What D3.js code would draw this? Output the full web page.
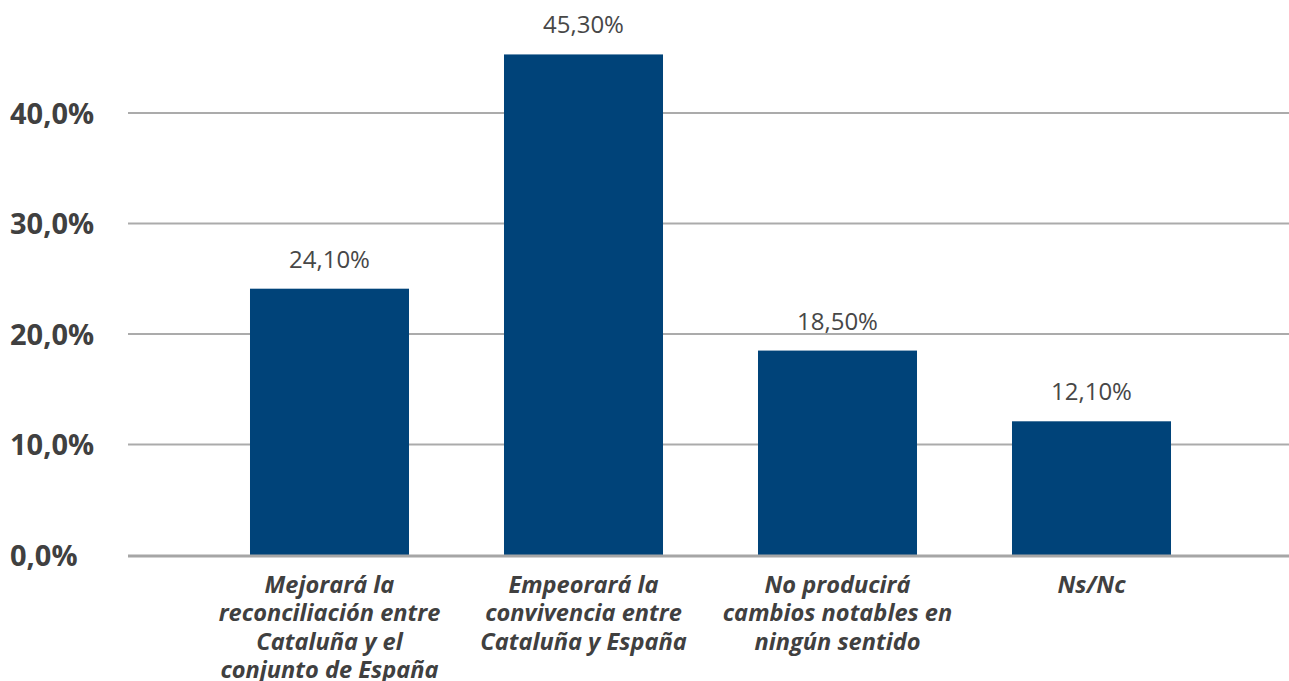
<!DOCTYPE html>
<html>
<head>
<meta charset="utf-8">
<script src="https://cdn.jsdelivr.net/npm/d3@7/dist/d3.min.js"></script>
<style>
html,body{margin:0;padding:0;background:#fff;}
svg{display:block;}
</style>
</head>
<body>
<svg id="chart" width="1289" height="681"></svg>
<script>
const categories = [
  ["Mejorará la", "reconciliación entre", "Cataluña y el", "conjunto de España"],
  ["Empeorará la", "convivencia entre", "Cataluña y España"],
  ["No producirá", "cambios notables en", "ningún sentido"],
  ["Ns/Nc"]
];
const values = [24.1, 45.3, 18.5, 12.1];
const valueLabels = ["24,10%", "45,30%", "18,50%", "12,10%"];
const yTicks = [0, 10, 20, 30, 40];
const yTickLabels = ["0,0%", "10,0%", "20,0%", "30,0%", "40,0%"];

const svg = d3.select("#chart");
const font = "'Open Sans', 'Noto Sans', sans-serif";

const y = d3.scaleLinear().domain([0, 40]).range([555, 113]);
const x = d3.scaleBand().domain(d3.range(values.length)).range([202.5, 1218.5])
  .paddingInner(0.374).paddingOuter(0.187);

// gridlines
svg.append("g").selectAll("line").data(yTicks.filter(t => t > 0)).join("line")
  .attr("x1", 128).attr("x2", 1289)
  .attr("y1", d => y(d)).attr("y2", d => y(d))
  .attr("stroke", "#ababab").attr("stroke-width", 2);

// y labels
svg.append("g").selectAll("text").data(yTicks).join("text")
  .attr("x", 10).attr("y", d => y(d) + 10.5)
  .attr("font-family", font).attr("font-weight", 700).attr("font-size", 29)
  .attr("fill", "#404040")
  .text((d, i) => yTickLabels[i]);

// bars
svg.append("g").selectAll("rect").data(values).join("rect")
  .attr("x", (d, i) => x(i)).attr("width", x.bandwidth())
  .attr("y", d => y(d)).attr("height", d => y(0) - y(d))
  .attr("fill", "#004379");

// baseline
svg.append("line").attr("x1", 128).attr("x2", 1289)
  .attr("y1", y(0) + 1).attr("y2", y(0) + 1)
  .attr("stroke", "#a6a6a6").attr("stroke-width", 3);

// value labels
svg.append("g").selectAll("text").data(values).join("text")
  .attr("x", (d, i) => x(i) + x.bandwidth() / 2)
  .attr("y", d => y(d) - 21)
  .attr("text-anchor", "middle")
  .attr("font-family", font).attr("font-size", 24)
  .attr("fill", "#474747")
  .text((d, i) => valueLabels[i]);

// category labels
const cg = svg.append("g").selectAll("text").data(categories).join("text")
  .attr("text-anchor", "middle")
  .attr("font-family", font).attr("font-weight", 700).attr("font-style", "italic")
  .attr("font-size", 23.6).attr("fill", "#404040");
cg.each(function(lines, i) {
  const t = d3.select(this);
  lines.forEach((ln, j) => {
    t.append("tspan").attr("x", x(i) + x.bandwidth() / 2)
      .attr("y", 592.7 + j * 28.5).text(ln);
  });
});
</script>
</body>
</html>
